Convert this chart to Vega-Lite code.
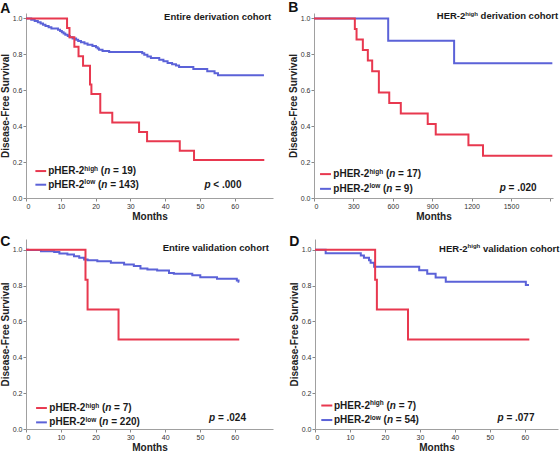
{
"$schema": "https://vega.github.io/schema/vega-lite/v6.json",
"padding": {"left": 0, "top": 0, "right": 0, "bottom": 0},
"config": {
  "font": "Liberation Sans",
  "view": {"stroke": null},
  "axis": {"grid": false, "domainColor": "#a0a0a0", "tickColor": "#888888", "tickSize": 3, "labelFontSize": 7, "labelColor": "#333333", "labelPadding": 1, "titleFontSize": 10, "titleFontWeight": "bold", "titleColor": "#222222", "titlePadding": 2, "labelOverlap": false, "tickCount": 20},
  "title": {"fontSize": 14, "fontWeight": "bold", "anchor": "start", "frame": "bounds", "color": "#111111", "baseline": "alphabetic"},
  "style": {"anno": {"fontSize": 10, "fontWeight": "bold", "align": "left", "baseline": "middle", "color": "#1a1a1a"}},
  "line": {"interpolate": "step-after", "strokeWidth": 2},
  "rule": {"strokeWidth": 2}
},
"datasets": {
  "a": [
    {"g":"low","t":0,"s":1},{"g":"low","t":1.5,"s":0.993},{"g":"low","t":2.5,"s":0.986},{"g":"low","t":3.4,"s":0.979},{"g":"low","t":4.2,"s":0.972},{"g":"low","t":4.9,"s":0.965},{"g":"low","t":5.6,"s":0.958},{"g":"low","t":6.5,"s":0.951},{"g":"low","t":7.3,"s":0.944},{"g":"low","t":9.2,"s":0.937},{"g":"low","t":9.8,"s":0.93},{"g":"low","t":10.3,"s":0.923},{"g":"low","t":10.8,"s":0.916},{"g":"low","t":11.3,"s":0.909},{"g":"low","t":12.0,"s":0.902},{"g":"low","t":12.6,"s":0.895},{"g":"low","t":13.4,"s":0.888},{"g":"low","t":14.4,"s":0.881},{"g":"low","t":15.0,"s":0.874},{"g":"low","t":15.8,"s":0.867},{"g":"low","t":16.8,"s":0.86},{"g":"low","t":17.7,"s":0.853},{"g":"low","t":19.1,"s":0.846},{"g":"low","t":20.1,"s":0.839},{"g":"low","t":20.6,"s":0.832},{"g":"low","t":21.0,"s":0.825},{"g":"low","t":22.0,"s":0.818},{"g":"low","t":23.9,"s":0.813},{"g":"low","t":33.4,"s":0.806},{"g":"low","t":34.0,"s":0.797},{"g":"low","t":34.9,"s":0.788},{"g":"low","t":35.9,"s":0.779},{"g":"low","t":38.3,"s":0.77},{"g":"low","t":39.5,"s":0.761},{"g":"low","t":40.7,"s":0.752},{"g":"low","t":42.0,"s":0.745},{"g":"low","t":43.1,"s":0.738},{"g":"low","t":44.0,"s":0.729},{"g":"low","t":48.1,"s":0.718},{"g":"low","t":52.1,"s":0.706},{"g":"low","t":54.2,"s":0.694},{"g":"low","t":55.2,"s":0.684},{"g":"low","t":68.4,"s":0.684},
    {"g":"high","t":0,"s":1},{"g":"high","t":11.8,"s":0.947},{"g":"high","t":12.5,"s":0.895},{"g":"high","t":13.9,"s":0.842},{"g":"high","t":15.1,"s":0.789},{"g":"high","t":16.4,"s":0.737},{"g":"high","t":18.4,"s":0.632},{"g":"high","t":18.8,"s":0.579},{"g":"high","t":21.35,"s":0.474},{"g":"high","t":24.8,"s":0.421},{"g":"high","t":32.5,"s":0.368},{"g":"high","t":34.8,"s":0.316},{"g":"high","t":44.2,"s":0.263},{"g":"high","t":48.3,"s":0.211},{"g":"high","t":68.5,"s":0.211}
  ],
  "b": [
    {"g":"low","t":0,"s":1},{"g":"low","t":565,"s":0.875},{"g":"low","t":1067,"s":0.75},{"g":"low","t":1815,"s":0.75},
    {"g":"high","t":0,"s":1},{"g":"high","t":311,"s":0.941},{"g":"high","t":324,"s":0.882},{"g":"high","t":372,"s":0.824},{"g":"high","t":410,"s":0.765},{"g":"high","t":443,"s":0.706},{"g":"high","t":494,"s":0.588},{"g":"high","t":573,"s":0.529},{"g":"high","t":661,"s":0.471},{"g":"high","t":866,"s":0.412},{"g":"high","t":927,"s":0.353},{"g":"high","t":1176,"s":0.294},{"g":"high","t":1287,"s":0.235},{"g":"high","t":1815,"s":0.235}
  ],
  "c": [
    {"g":"low","t":0,"s":1},{"g":"low","t":0.5,"s":0.998},{"g":"low","t":4.3,"s":0.992},{"g":"low","t":8.1,"s":0.987},{"g":"low","t":9.6,"s":0.979},{"g":"low","t":11.9,"s":0.974},{"g":"low","t":13.8,"s":0.964},{"g":"low","t":15.3,"s":0.955},{"g":"low","t":16.7,"s":0.946},{"g":"low","t":17.7,"s":0.942},{"g":"low","t":20.5,"s":0.936},{"g":"low","t":24.4,"s":0.927},{"g":"low","t":28.2,"s":0.918},{"g":"low","t":31.0,"s":0.909},{"g":"low","t":32.9,"s":0.896},{"g":"low","t":34.9,"s":0.89},{"g":"low","t":37.7,"s":0.884},{"g":"low","t":41.1,"s":0.871},{"g":"low","t":42.5,"s":0.866},{"g":"low","t":47.8,"s":0.858},{"g":"low","t":50.1,"s":0.847},{"g":"low","t":54.9,"s":0.838},{"g":"low","t":60.6,"s":0.829},{"g":"low","t":61.1,"s":0.821},{"g":"low","t":61.3,"s":0.821},
    {"g":"high","t":0,"s":1},{"g":"high","t":17.1,"s":0.833},{"g":"high","t":17.7,"s":0.667},{"g":"high","t":26.6,"s":0.5},{"g":"high","t":61.3,"s":0.5}
  ],
  "d": [
    {"g":"low","t":0,"s":1},{"g":"low","t":3.05,"s":0.981},{"g":"low","t":13.1,"s":0.968},{"g":"low","t":14.0,"s":0.955},{"g":"low","t":15.45,"s":0.942},{"g":"low","t":15.9,"s":0.927},{"g":"low","t":16.9,"s":0.905},{"g":"low","t":29.8,"s":0.886},{"g":"low","t":32.1,"s":0.866},{"g":"low","t":34.5,"s":0.845},{"g":"low","t":37.4,"s":0.822},{"g":"low","t":60.3,"s":0.803},{"g":"low","t":61.2,"s":0.803},
    {"g":"high","t":0,"s":1},{"g":"high","t":17.2,"s":0.833},{"g":"high","t":17.7,"s":0.667},{"g":"high","t":26.6,"s":0.5},{"g":"high","t":61.3,"s":0.5}
  ]
},
"resolve": {"scale": {"x": "independent", "y": "independent"}},
"spacing": 14,
"vconcat": [
 {"hconcat": [
  {"title": {"text": "A", "offset": -4},
   "width": 247, "height": 185,
   "data": {"values": [{}]},
   "layer": [
    {"data": {"name": "a"}, "mark": "line",
     "encoding": {
      "x": {"field": "t", "type": "quantitative", "scale": {"domain": [0, 71], "nice": false}, "axis": {"title": "Months", "values": [0,10,20,30,40,50,60], "tickCount": 20, "labelOverlap": false}},
      "y": {"field": "s", "type": "quantitative", "scale": {"domain": [0, 1.03], "nice": false}, "axis": {"title": "Disease-Free Survival", "values": [0,0.2,0.4,0.6,0.8,1], "tickCount": 20, "format": ".1f", "labelOverlap": false}},
      "color": {"field": "g", "type": "nominal", "scale": {"domain": ["low","high"], "range": ["#5B62D8","#E8384F"]}, "legend": null}}},
    {"mark": {"type": "rule", "color": "#E8384F"}, "encoding": {"x": {"datum": 2.7}, "x2": {"datum": 5.8}, "y": {"datum": 0.15}}},
    {"mark": {"type": "rule", "color": "#5B62D8"}, "encoding": {"x": {"datum": 2.7}, "x2": {"datum": 5.8}, "y": {"datum": 0.074}}},
    {"mark": {"type": "text", "style": "anno", "text": "pHER-2"}, "encoding": {"x": {"datum": 6.4}, "y": {"datum": 0.15}}},
    {"mark": {"type": "text", "style": "anno", "text": "high", "fontSize": 6.5, "dx": 36.1, "dy": -2.5}, "encoding": {"x": {"datum": 6.4}, "y": {"datum": 0.15}}},
    {"mark": {"type": "text", "style": "anno", "text": "(", "dx": 52.6}, "encoding": {"x": {"datum": 6.4}, "y": {"datum": 0.15}}},
    {"mark": {"type": "text", "style": "anno", "text": "n", "fontStyle": "italic", "dx": 55.9}, "encoding": {"x": {"datum": 6.4}, "y": {"datum": 0.15}}},
    {"mark": {"type": "text", "style": "anno", "text": "= 19)", "dx": 64.8}, "encoding": {"x": {"datum": 6.4}, "y": {"datum": 0.15}}},
    {"mark": {"type": "text", "style": "anno", "text": "pHER-2"}, "encoding": {"x": {"datum": 6.4}, "y": {"datum": 0.074}}},
    {"mark": {"type": "text", "style": "anno", "text": "low", "fontSize": 6.5, "dx": 36.1, "dy": -2.5}, "encoding": {"x": {"datum": 6.4}, "y": {"datum": 0.074}}},
    {"mark": {"type": "text", "style": "anno", "text": "(", "dx": 49.7}, "encoding": {"x": {"datum": 6.4}, "y": {"datum": 0.074}}},
    {"mark": {"type": "text", "style": "anno", "text": "n", "fontStyle": "italic", "dx": 53.0}, "encoding": {"x": {"datum": 6.4}, "y": {"datum": 0.074}}},
    {"mark": {"type": "text", "style": "anno", "text": "= 143)", "dx": 61.9}, "encoding": {"x": {"datum": 6.4}, "y": {"datum": 0.074}}},
    {"mark": {"type": "text", "style": "anno", "text": "p", "fontStyle": "italic"}, "encoding": {"x": {"datum": 51.3}, "y": {"datum": 0.074}}},
    {"mark": {"type": "text", "style": "anno", "text": "< .000", "dx": 8.9}, "encoding": {"x": {"datum": 51.3}, "y": {"datum": 0.074}}},
    {"mark": {"type": "text", "style": "anno", "text": "Entire derivation cohort", "fontSize": 9.5, "align": "right"}, "encoding": {"x": {"datum": 70.5}, "y": {"datum": 1.007}}}
   ]},
  {"title": {"text": "B", "offset": -4},
   "width": 239, "height": 185,
   "data": {"values": [{}]},
   "layer": [
    {"data": {"name": "b"}, "mark": "line",
     "encoding": {
      "x": {"field": "t", "type": "quantitative", "scale": {"domain": [0, 1820], "nice": false}, "axis": {"title": "Months", "values": [0,300,600,900,1200,1500,1800], "tickCount": 20, "format": "d", "labelExpr": "datum.value == 1800 ? '' : datum.label", "labelOverlap": false}},
      "y": {"field": "s", "type": "quantitative", "scale": {"domain": [0, 1.03], "nice": false}, "axis": {"title": "Disease-Free Survival", "values": [0,0.2,0.4,0.6,0.8,1], "tickCount": 20, "format": ".1f", "labelOverlap": false}},
      "color": {"field": "g", "type": "nominal", "scale": {"domain": ["low","high"], "range": ["#5B62D8","#E8384F"]}, "legend": null}}},
    {"mark": {"type": "rule", "color": "#E8384F"}, "encoding": {"x": {"datum": 46}, "x2": {"datum": 129}, "y": {"datum": 0.133}}},
    {"mark": {"type": "rule", "color": "#5B62D8"}, "encoding": {"x": {"datum": 46}, "x2": {"datum": 129}, "y": {"datum": 0.051}}},
    {"mark": {"type": "text", "style": "anno", "text": "pHER-2"}, "encoding": {"x": {"datum": 147}, "y": {"datum": 0.133}}},
    {"mark": {"type": "text", "style": "anno", "text": "high", "fontSize": 6.5, "dx": 36.1, "dy": -2.5}, "encoding": {"x": {"datum": 147}, "y": {"datum": 0.133}}},
    {"mark": {"type": "text", "style": "anno", "text": "(", "dx": 52.6}, "encoding": {"x": {"datum": 147}, "y": {"datum": 0.133}}},
    {"mark": {"type": "text", "style": "anno", "text": "n", "fontStyle": "italic", "dx": 55.9}, "encoding": {"x": {"datum": 147}, "y": {"datum": 0.133}}},
    {"mark": {"type": "text", "style": "anno", "text": "= 17)", "dx": 64.8}, "encoding": {"x": {"datum": 147}, "y": {"datum": 0.133}}},
    {"mark": {"type": "text", "style": "anno", "text": "pHER-2"}, "encoding": {"x": {"datum": 147}, "y": {"datum": 0.051}}},
    {"mark": {"type": "text", "style": "anno", "text": "low", "fontSize": 6.5, "dx": 36.1, "dy": -2.5}, "encoding": {"x": {"datum": 147}, "y": {"datum": 0.051}}},
    {"mark": {"type": "text", "style": "anno", "text": "(", "dx": 49.7}, "encoding": {"x": {"datum": 147}, "y": {"datum": 0.051}}},
    {"mark": {"type": "text", "style": "anno", "text": "n", "fontStyle": "italic", "dx": 53.0}, "encoding": {"x": {"datum": 147}, "y": {"datum": 0.051}}},
    {"mark": {"type": "text", "style": "anno", "text": "= 9)", "dx": 61.9}, "encoding": {"x": {"datum": 147}, "y": {"datum": 0.051}}},
    {"mark": {"type": "text", "style": "anno", "text": "p", "fontStyle": "italic"}, "encoding": {"x": {"datum": 1414}, "y": {"datum": 0.055}}},
    {"mark": {"type": "text", "style": "anno", "text": "= .020", "dx": 8.9}, "encoding": {"x": {"datum": 1414}, "y": {"datum": 0.055}}},
    {"mark": {"type": "text", "style": "anno", "text": "HER-2", "fontSize": 9.5}, "encoding": {"x": {"datum": 935}, "y": {"datum": 1.011}}},
    {"mark": {"type": "text", "style": "anno", "text": "high", "fontSize": 6, "dx": 28.5, "dy": -2.5}, "encoding": {"x": {"datum": 935}, "y": {"datum": 1.011}}},
    {"mark": {"type": "text", "style": "anno", "text": "derivation cohort", "fontSize": 9.5, "dx": 43.8}, "encoding": {"x": {"datum": 935}, "y": {"datum": 1.011}}}
   ]}
 ], "spacing": 15, "resolve": {"scale": {"x": "independent", "y": "independent"}}},
 {"hconcat": [
  {"title": {"text": "C", "offset": -10},
   "width": 247, "height": 190,
   "data": {"values": [{}]},
   "layer": [
    {"data": {"name": "c"}, "mark": "line",
     "encoding": {
      "x": {"field": "t", "type": "quantitative", "scale": {"domain": [0, 71], "nice": false}, "axis": {"title": "Months", "values": [0,10,20,30,40,50,60], "tickCount": 20, "labelOverlap": false}},
      "y": {"field": "s", "type": "quantitative", "scale": {"domain": [0, 1.06], "nice": false}, "axis": {"title": "Disease-Free Survival", "values": [0,0.2,0.4,0.6,0.8,1], "tickCount": 20, "format": ".1f", "labelOverlap": false}},
      "color": {"field": "g", "type": "nominal", "scale": {"domain": ["low","high"], "range": ["#5B62D8","#E8384F"]}, "legend": null}}},
    {"mark": {"type": "rule", "color": "#E8384F"}, "encoding": {"x": {"datum": 2.9}, "x2": {"datum": 6.0}, "y": {"datum": 0.117}}},
    {"mark": {"type": "rule", "color": "#5B62D8"}, "encoding": {"x": {"datum": 2.9}, "x2": {"datum": 6.0}, "y": {"datum": 0.037}}},
    {"mark": {"type": "text", "style": "anno", "text": "pHER-2"}, "encoding": {"x": {"datum": 6.7}, "y": {"datum": 0.117}}},
    {"mark": {"type": "text", "style": "anno", "text": "high", "fontSize": 6.5, "dx": 36.1, "dy": -2.5}, "encoding": {"x": {"datum": 6.7}, "y": {"datum": 0.117}}},
    {"mark": {"type": "text", "style": "anno", "text": "(", "dx": 52.6}, "encoding": {"x": {"datum": 6.7}, "y": {"datum": 0.117}}},
    {"mark": {"type": "text", "style": "anno", "text": "n", "fontStyle": "italic", "dx": 55.9}, "encoding": {"x": {"datum": 6.7}, "y": {"datum": 0.117}}},
    {"mark": {"type": "text", "style": "anno", "text": "= 7)", "dx": 64.8}, "encoding": {"x": {"datum": 6.7}, "y": {"datum": 0.117}}},
    {"mark": {"type": "text", "style": "anno", "text": "pHER-2"}, "encoding": {"x": {"datum": 6.7}, "y": {"datum": 0.037}}},
    {"mark": {"type": "text", "style": "anno", "text": "low", "fontSize": 6.5, "dx": 36.1, "dy": -2.5}, "encoding": {"x": {"datum": 6.7}, "y": {"datum": 0.037}}},
    {"mark": {"type": "text", "style": "anno", "text": "(", "dx": 49.7}, "encoding": {"x": {"datum": 6.7}, "y": {"datum": 0.037}}},
    {"mark": {"type": "text", "style": "anno", "text": "n", "fontStyle": "italic", "dx": 53.0}, "encoding": {"x": {"datum": 6.7}, "y": {"datum": 0.037}}},
    {"mark": {"type": "text", "style": "anno", "text": "= 220)", "dx": 61.9}, "encoding": {"x": {"datum": 6.7}, "y": {"datum": 0.037}}},
    {"mark": {"type": "text", "style": "anno", "text": "p", "fontStyle": "italic"}, "encoding": {"x": {"datum": 52.6}, "y": {"datum": 0.059}}},
    {"mark": {"type": "text", "style": "anno", "text": "= .024", "dx": 8.9}, "encoding": {"x": {"datum": 52.6}, "y": {"datum": 0.059}}},
    {"mark": {"type": "text", "style": "anno", "text": "Entire validation cohort", "fontSize": 9.5, "align": "right"}, "encoding": {"x": {"datum": 69.8}, "y": {"datum": 1.008}}}
   ]},
  {"title": {"text": "D", "offset": -10},
   "width": 243, "height": 190,
   "data": {"values": [{}]},
   "layer": [
    {"data": {"name": "d"}, "mark": "line",
     "encoding": {
      "x": {"field": "t", "type": "quantitative", "scale": {"domain": [0, 69.5], "nice": false}, "axis": {"title": "Months", "values": [0,10,20,30,40,50,60], "tickCount": 20, "labelOverlap": false}},
      "y": {"field": "s", "type": "quantitative", "scale": {"domain": [0, 1.06], "nice": false}, "axis": {"title": "Disease-Free Survival", "values": [0,0.2,0.4,0.6,0.8,1], "tickCount": 20, "format": ".1f", "labelOverlap": false}},
      "color": {"field": "g", "type": "nominal", "scale": {"domain": ["low","high"], "range": ["#5B62D8","#E8384F"]}, "legend": null}}},
    {"mark": {"type": "rule", "color": "#E8384F"}, "encoding": {"x": {"datum": 1.8}, "x2": {"datum": 4.95}, "y": {"datum": 0.131}}},
    {"mark": {"type": "rule", "color": "#5B62D8"}, "encoding": {"x": {"datum": 1.8}, "x2": {"datum": 4.95}, "y": {"datum": 0.05}}},
    {"mark": {"type": "text", "style": "anno", "text": "pHER-2"}, "encoding": {"x": {"datum": 5.4}, "y": {"datum": 0.131}}},
    {"mark": {"type": "text", "style": "anno", "text": "high", "fontSize": 6.5, "dx": 36.1, "dy": -2.5}, "encoding": {"x": {"datum": 5.4}, "y": {"datum": 0.131}}},
    {"mark": {"type": "text", "style": "anno", "text": "(", "dx": 52.6}, "encoding": {"x": {"datum": 5.4}, "y": {"datum": 0.131}}},
    {"mark": {"type": "text", "style": "anno", "text": "n", "fontStyle": "italic", "dx": 55.9}, "encoding": {"x": {"datum": 5.4}, "y": {"datum": 0.131}}},
    {"mark": {"type": "text", "style": "anno", "text": "= 7)", "dx": 64.8}, "encoding": {"x": {"datum": 5.4}, "y": {"datum": 0.131}}},
    {"mark": {"type": "text", "style": "anno", "text": "pHER-2"}, "encoding": {"x": {"datum": 5.4}, "y": {"datum": 0.05}}},
    {"mark": {"type": "text", "style": "anno", "text": "low", "fontSize": 6.5, "dx": 36.1, "dy": -2.5}, "encoding": {"x": {"datum": 5.4}, "y": {"datum": 0.05}}},
    {"mark": {"type": "text", "style": "anno", "text": "(", "dx": 49.7}, "encoding": {"x": {"datum": 5.4}, "y": {"datum": 0.05}}},
    {"mark": {"type": "text", "style": "anno", "text": "n", "fontStyle": "italic", "dx": 53.0}, "encoding": {"x": {"datum": 5.4}, "y": {"datum": 0.05}}},
    {"mark": {"type": "text", "style": "anno", "text": "= 54)", "dx": 61.9}, "encoding": {"x": {"datum": 5.4}, "y": {"datum": 0.05}}},
    {"mark": {"type": "text", "style": "anno", "text": "p", "fontStyle": "italic"}, "encoding": {"x": {"datum": 52.2}, "y": {"datum": 0.061}}},
    {"mark": {"type": "text", "style": "anno", "text": "= .077", "dx": 8.9}, "encoding": {"x": {"datum": 52.2}, "y": {"datum": 0.061}}},
    {"mark": {"type": "text", "style": "anno", "text": "HER-2", "fontSize": 9.5}, "encoding": {"x": {"datum": 35.5}, "y": {"datum": 1.006}}},
    {"mark": {"type": "text", "style": "anno", "text": "high", "fontSize": 6, "dx": 28.5, "dy": -2.5}, "encoding": {"x": {"datum": 35.5}, "y": {"datum": 1.006}}},
    {"mark": {"type": "text", "style": "anno", "text": "validation cohort", "fontSize": 9.5, "dx": 43.8}, "encoding": {"x": {"datum": 35.5}, "y": {"datum": 1.006}}}
   ]}
 ], "spacing": 16, "resolve": {"scale": {"x": "independent", "y": "independent"}}}
]
}
